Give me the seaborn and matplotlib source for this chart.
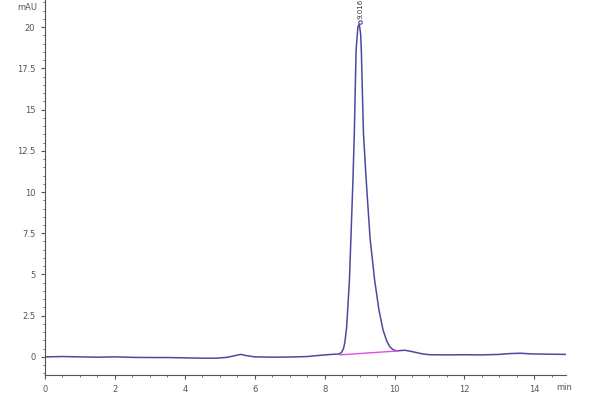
import matplotlib
matplotlib.use("Agg")
import matplotlib.pyplot as plt
import seaborn as sns
import pandas as pd
from matplotlib.ticker import MultipleLocator

# chromatogram trace (min, mAU)
time_min = [0.0, 0.5, 1.0, 1.5, 2.0, 2.5, 3.0, 3.5, 4.0, 4.5, 4.9, 5.2,
            5.45, 5.6, 5.75, 6.0, 6.5, 7.0, 7.5, 7.9, 8.2, 8.4, 8.48,
            8.54, 8.58, 8.63, 8.71, 8.81, 8.85, 8.9, 8.95, 8.99, 9.03, 9.05,
            9.11, 9.19, 9.3, 9.43, 9.55, 9.67, 9.77, 9.86, 9.95, 10.05,
            10.15, 10.3, 10.5, 10.8, 11.0, 11.5, 12.0, 12.5, 13.0, 13.3,
            13.6, 13.9, 14.2, 14.5, 14.9]
signal = [0.0, 0.02, 0.0, -0.02, 0.0, -0.03, -0.04, -0.04, -0.06, -0.08,
          -0.08, -0.03, 0.08, 0.15, 0.08, 0.0, -0.02, -0.01, 0.02, 0.1,
          0.15, 0.17, 0.25, 0.5, 0.9, 1.8, 4.67, 10.7, 13.6, 18.6, 20.0,
          20.2, 19.6, 18.6, 13.6, 10.7, 7.2, 4.67, 2.9, 1.64, 1.0, 0.62,
          0.45, 0.36, 0.38, 0.4, 0.32, 0.18, 0.13, 0.12, 0.13, 0.12,
          0.15, 0.2, 0.22, 0.18, 0.17, 0.16, 0.15]

# integration baseline under the peak
base_t = [8.43, 10.1]
base_y = [0.12, 0.36]

peak_rt = 9.016
peak_h = 20.2

trace = pd.DataFrame({"t": time_min, "mAU": signal})
baseline = pd.DataFrame({"t": base_t, "mAU": base_y})

sns.set_style("white")
fig = plt.figure(figsize=(6, 4), dpi=100)
ax = fig.add_axes([0.075, 0.0625, 0.868, 0.9375])

sns.lineplot(data=trace, x="t", y="mAU", ax=ax, color="#4b4b9e",
             linewidth=1.1, sort=False)
sns.lineplot(data=baseline, x="t", y="mAU", ax=ax, color="#e050e0",
             linewidth=1.0)

# peak label
ax.plot([peak_rt], [peak_h + 0.1], marker="o", markersize=2.5,
        color="#4b4b9e", markerfacecolor="white", markeredgewidth=0.8)
ax.text(peak_rt, peak_h + 0.3, f"{peak_rt:.3f}", rotation=90,
        ha="center", va="bottom", fontsize=5, color="#333333")

ax.set_xlim(0, 14.9)
ax.set_ylim(-1.1, 21.65)
ax.xaxis.set_major_locator(MultipleLocator(2))
ax.xaxis.set_minor_locator(MultipleLocator(0.5))
ax.yaxis.set_minor_locator(MultipleLocator(0.5))
ax.set_yticks([0, 2.5, 5, 7.5, 10, 12.5, 15, 17.5, 20])
ax.set_yticklabels(["0", "2.5", "5", "7.5", "10", "12.5", "15", "17.5", "20"])

ax.tick_params(axis="both", which="major", direction="out", length=3,
               width=0.8, labelsize=6, colors="#555555", pad=4)
ax.tick_params(axis="both", which="minor", direction="out", length=1.5,
               width=0.6, colors="#555555")
ax.tick_params(axis="x", which="both", bottom=True)
ax.tick_params(axis="y", which="both", left=True)

for side in ["top", "right"]:
    ax.spines[side].set_visible(False)
for side in ["left", "bottom"]:
    ax.spines[side].set_color("#555555")
    ax.spines[side].set_linewidth(0.8)

ax.set_xlabel("")
ax.set_ylabel("")
fig.text(0.062, 0.98, "mAU", ha="right", va="center", fontsize=6,
         color="#555555")
fig.text(0.927, 0.03, "min", ha="left", va="center", fontsize=6,
         color="#555555")

fig.savefig("out.png", dpi=100)
